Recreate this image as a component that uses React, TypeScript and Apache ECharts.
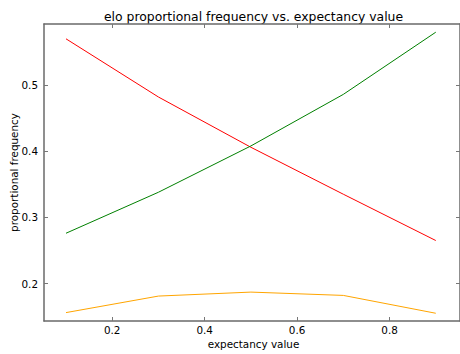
import React, { useEffect, useRef } from "react";
import * as echarts from "echarts";

const xValues = [0.1, 0.3, 0.5, 0.7, 0.9];
const redValues = [0.570, 0.482, 0.406, 0.335, 0.265];
const greenValues = [0.276, 0.338, 0.408, 0.486, 0.580];
const orangeValues = [0.156, 0.181, 0.187, 0.182, 0.155];
const xTicks = [0.2, 0.4, 0.6, 0.8];
const yTicks = [0.2, 0.3, 0.4, 0.5];
const titleText = "elo proportional frequency vs. expectancy value";
const xName = "expectancy value";
const yName = "proportional frequency";

const FONT = "DejaVu Sans";

export default function App() {
  const ref = useRef<HTMLDivElement>(null);
  useEffect(() => {
    if (!ref.current) return;
    const chart = echarts.init(ref.current, undefined, { renderer: "svg" });
    const pair = (ys: number[]) => xValues.map((x, i) => [x, ys[i]]);
    const xMin = 0.0524, xMax = 0.9524, yMin = 0.1433, yMax = 0.5924;
    const spine = { show: true, lineStyle: { color: "#6a6a6a", width: 1.5 } };
    const tick = (vals: number[]) => ({ show: true, inside: true, length: 4, customValues: vals, lineStyle: { color: "#777" } });
    const option: any = {
      animation: false,
      backgroundColor: "#fff",
      grid: { left: 44, right: -3, top: 24, bottom: 33, containLabel: false },
      xAxis: [
        {
          type: "value", min: xMin, max: xMax, position: "bottom",
          axisLine: spine, axisTick: tick(xTicks), splitLine: { show: false },
          axisLabel: { customValues: xTicks, color: "#000", fontFamily: FONT, fontSize: 10.4, margin: 4, formatter: (v: number) => String(v) },
        },
        {
          type: "value", min: xMin, max: xMax, position: "top",
          axisLine: spine, axisTick: tick(xTicks), splitLine: { show: false },
          axisLabel: { show: false },
        },
      ],
      yAxis: [
        {
          type: "value", min: yMin, max: yMax, position: "left",
          axisLine: spine, axisTick: tick(yTicks), splitLine: { show: false },
          axisLabel: { customValues: yTicks, color: "#000", fontFamily: FONT, fontSize: 10.4, margin: 6, formatter: (v: number) => String(v) },
        },
        {
          type: "value", min: yMin, max: yMax, position: "right",
          axisLine: spine, axisTick: tick(yTicks), splitLine: { show: false },
          axisLabel: { show: false },
        },
      ],
      series: [
        { type: "line", data: pair(redValues), showSymbol: false, lineStyle: { color: "#ff0000", width: 1 }, itemStyle: { color: "#ff0000" } },
        { type: "line", data: pair(greenValues), showSymbol: false, lineStyle: { color: "#008000", width: 1 }, itemStyle: { color: "#008000" } },
        { type: "line", data: pair(orangeValues), showSymbol: false, lineStyle: { color: "#ffa500", width: 1 }, itemStyle: { color: "#ffa500" } },
      ],
      graphic: [
        { type: "text", x: 253.5, y: 16, style: { text: titleText, fill: "#000", font: `12.4px "${FONT}"`, textAlign: "center", textVerticalAlign: "middle" } },
        { type: "text", x: 253.5, y: 344, style: { text: xName, fill: "#000", font: `10.4px "${FONT}"`, textAlign: "center", textVerticalAlign: "middle" } },
        { type: "text", x: 14, y: 172.5, rotation: Math.PI / 2, style: { text: yName, fill: "#000", font: `10.4px "${FONT}"`, textAlign: "center", textVerticalAlign: "middle" } },
      ],
    };
    chart.setOption(option);
    return () => chart.dispose();
  }, []);
  return <div ref={ref} style={{ position: "absolute", left: 0, top: 0, width: 460, height: 354 }} />;
}
